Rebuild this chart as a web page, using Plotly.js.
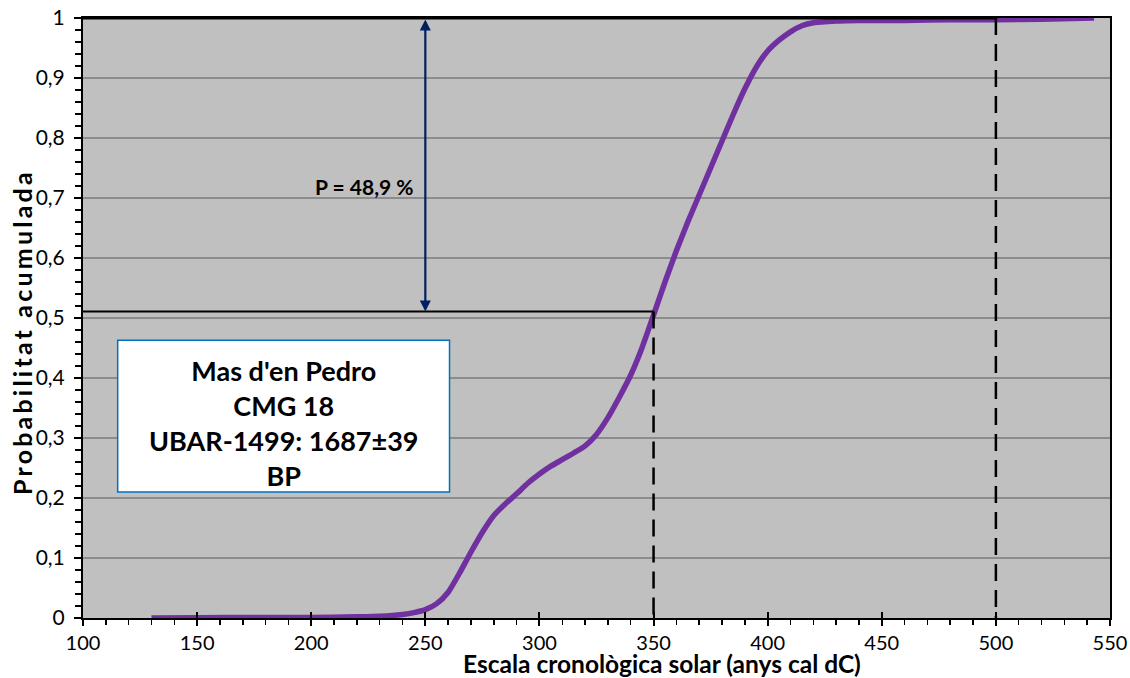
<!DOCTYPE html>
<html>
<head>
<meta charset="utf-8">
<script src="https://cdn.plot.ly/plotly-3.0.1.min.js"></script>
<style>html,body{margin:0;padding:0;background:#fff;}#chart{width:1130px;height:678px;}</style>
</head>
<body>
<div id="chart"></div>
<script>
// Cumulative calibrated probability curve (years cal AD vs cumulative probability)
const years = [130,150,175,200,220,230,240,245,250,255,260,265,270,275,280,285,290,295,300,305,310,315,320,325,330,335,340,345,350,355,360,365,370,375,380,385,390,395,400,405,410,415,420,430,440,460,480,500,520,543];
const cumProb = [0,0.0005,0.001,0.001,0.002,0.003,0.006,0.009,0.014,0.024,0.043,0.075,0.11,0.143,0.171,0.19,0.207,0.225,0.24,0.253,0.264,0.275,0.287,0.306,0.334,0.368,0.405,0.451,0.505,0.56,0.612,0.66,0.705,0.75,0.795,0.84,0.882,0.918,0.945,0.963,0.977,0.987,0.992,0.995,0.996,0.996,0.997,0.997,0.998,1];

// Interval markers
const intervalStart = 350;
const intervalEnd = 500;
const lowerProb = 0.511;
const upperProb = 1;
const probLabel = "P = 48,9 %";
const boxLines = ["Mas d'en Pedro", "CMG 18", "UBAR-1499: 1687±39", "BP"];
const xTitle = "Escala cronològica solar (anys cal dC)";
const yTitle = "Probabilitat acumulada";
const arrowYear = 250;

const FONT = "Lato, 'Open Sans', sans-serif";

const traces = [
  {x: years, y: cumProb, mode: 'lines', line: {color: '#7030a0', width: 5.5, shape: 'spline', smoothing: 0.6}, hoverinfo: 'skip', xaxis: 'x', yaxis: 'y'},
  {x: [], y: [], xaxis: 'x2', yaxis: 'y', hoverinfo: 'skip', showlegend: false}
];

const shapes = [
  {type: 'line', xref: 'x', yref: 'y', x0: 100, x1: intervalEnd, y0: upperProb, y1: upperProb, line: {color: '#000', width: 3}},
  {type: 'line', xref: 'x', yref: 'y', x0: 100, x1: intervalStart, y0: lowerProb, y1: lowerProb, line: {color: '#000', width: 2}},
  {type: 'line', xref: 'x', yref: 'y', x0: intervalStart, x1: intervalStart, y0: lowerProb, y1: 0, line: {color: '#000', width: 2.5, dash: '17px,9px'}},
  {type: 'line', xref: 'x', yref: 'y', x0: intervalEnd, x1: intervalEnd, y0: upperProb, y1: 0, line: {color: '#000', width: 2.5, dash: '17px,9px'}},
  {type: 'rect', xref: 'x', yref: 'y', x0: 115.2, x1: 260.6, y0: 0.21, y1: 0.463, fillcolor: '#ffffff', line: {color: '#0070c0', width: 1.5}}
];

const annotations = [
  {x: arrowYear, y: lowerProb, ax: arrowYear, ay: upperProb, xref: 'x', yref: 'y', axref: 'x', ayref: 'y',
   showarrow: true, arrowhead: 2, startarrowhead: 2, arrowside: 'end+start', arrowsize: 1, startarrowsize: 1,
   arrowwidth: 2.2, arrowcolor: '#002060', text: ''},
  {x: 245.8, y: 0.72, xref: 'x', yref: 'y', text: '<b>' + probLabel + '</b>', showarrow: false, xanchor: 'right', yanchor: 'middle',
   font: {family: FONT, size: 21, color: '#000'}},
  {x: 187.9, y: 0.325, xref: 'x', yref: 'y', text: boxLines.map(s => '<b>' + s + '</b>').join('<br>'), showarrow: false,
   xanchor: 'center', yanchor: 'middle', align: 'center', font: {family: FONT, size: 27, color: '#000'}},
  {x: 0.5633, y: -0.076, xref: 'paper', yref: 'paper', text: '<b>' + xTitle + '</b>', showarrow: false, xanchor: 'center', yanchor: 'middle',
   font: {family: FONT, size: 24.5, color: '#000'}},
  {x: -0.0594, y: 0.477, xref: 'paper', yref: 'paper', text: '<b>' + yTitle + '</b>', showarrow: false, textangle: -90, xanchor: 'center', yanchor: 'middle',
   font: {family: FONT, size: 25, color: '#000'}}
];

const layout = {
  width: 1130, height: 678,
  margin: {l: 83, r: 20, t: 18, b: 60},
  paper_bgcolor: '#ffffff', plot_bgcolor: '#c0c0c0',
  separators: ',.',
  showlegend: false,
  font: {family: FONT, size: 20, color: '#000'},
  xaxis: {range: [100, 550], dtick: 50, tick0: 100, showgrid: false, zeroline: false,
          showline: true, linecolor: '#000', linewidth: 2, mirror: true,
          ticks: 'outside', ticklen: 6, tickwidth: 2, tickcolor: '#000',
          minor: {dtick: 10, ticks: 'outside', ticklen: 5, tickwidth: 1.5, tickcolor: '#000', showgrid: false},
          tickfont: {family: FONT, size: 20, color: '#000'}, fixedrange: true},
  xaxis2: {range: [100, 550], dtick: 50, tick0: 100, overlaying: 'x', anchor: 'y', side: 'bottom', showgrid: false, zeroline: false,
           showline: false, ticks: 'inside', ticklen: 6, tickwidth: 2, tickcolor: '#000', showticklabels: false, fixedrange: true},
  yaxis: {range: [0, 1], dtick: 0.1, tick0: 0, showgrid: true, gridcolor: '#8c8c8c', gridwidth: 1.5, zeroline: false,
          showline: true, linecolor: '#000', linewidth: 2, mirror: true,
          ticks: 'outside', ticklen: 7, tickwidth: 2, tickcolor: '#000', ticklabelstandoff: 5,
          minor: {dtick: 0.02, ticks: 'outside', ticklen: 6, tickwidth: 1.5, tickcolor: '#000', showgrid: false},
          tickfont: {family: FONT, size: 21, color: '#000'}, fixedrange: true},
  shapes: shapes,
  annotations: annotations
};

Plotly.newPlot('chart', traces, layout, {staticPlot: true, displayModeBar: false}).then(function (gd) {
  const t = gd.querySelector('.annotation[data-index="4"] text');
  if (t) t.style.letterSpacing = '3.2px';
});
</script>
</body>
</html>
